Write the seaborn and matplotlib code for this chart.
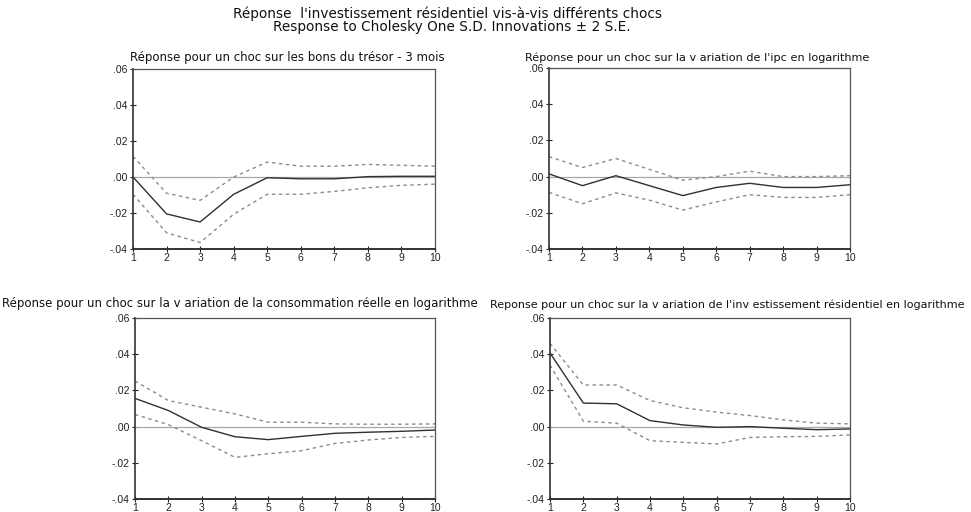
import numpy as np
import pandas as pd
import matplotlib
matplotlib.use("Agg")
import matplotlib.pyplot as plt
import seaborn as sns

periods = list(range(1, 11))

titles = [
    "Réponse pour un choc sur les bons du trésor - 3 mois",
    "Réponse pour un choc sur la v ariation de l'ipc en logarithme",
    "Réponse pour un choc sur la v ariation de la consommation réelle en logarithme",
    "Reponse pour un choc sur la v ariation de l'inv estissement résidentiel en logarithme",
]

resp_tbill = [0.000, -0.0205, -0.025, -0.0096, -0.0004, -0.001, -0.001, 0.0002, 0.0004, 0.0004]
up_tbill = [0.0115, -0.009, -0.013, 0.000, 0.0083, 0.006, 0.006, 0.007, 0.0065, 0.006]
lo_tbill = [-0.0096, -0.031, -0.0364, -0.0207, -0.0096, -0.0096, -0.008, -0.006, -0.0046, -0.004]

resp_ipc = [0.0015, -0.005, 0.0005, -0.005, -0.0105, -0.006, -0.0037, -0.006, -0.006, -0.0045]
up_ipc = [0.011, 0.005, 0.010, 0.004, -0.002, 0.000, 0.003, 0.000, 0.000, 0.0005]
lo_ipc = [-0.0087, -0.015, -0.009, -0.013, -0.0185, -0.014, -0.010, -0.0115, -0.0115, -0.010]

resp_conso = [0.0156, 0.0089, -0.0004, -0.0056, -0.0072, -0.0054, -0.0037, -0.0031, -0.0026, -0.0019]
up_conso = [0.0252, 0.0144, 0.0107, 0.007, 0.0024, 0.0024, 0.0015, 0.0013, 0.0013, 0.0015]
lo_conso = [0.0067, 0.0011, -0.0078, -0.017, -0.015, -0.0133, -0.0093, -0.0074, -0.006, -0.0054]

resp_inv = [0.0407, 0.013, 0.0126, 0.0033, 0.0009, -0.0004, 0.0, -0.0009, -0.0017, -0.0013]
up_inv = [0.046, 0.023, 0.023, 0.0144, 0.0104, 0.008, 0.0061, 0.0037, 0.0019, 0.0015]
lo_inv = [0.034, 0.003, 0.0019, -0.0078, -0.0087, -0.0096, -0.006, -0.0056, -0.0054, -0.0046]

yticks = [-0.04, -0.02, 0.0, 0.02, 0.04, 0.06]
ytick_labels = ["-.04", "-.02", ".00", ".02", ".04", ".06"]

main_line1 = "Réponse  l'investissement résidentiel vis-à-vis différents chocs"
main_line2 = "Response to Cholesky One S.D. Innovations \u00b1 2 S.E."

panels = [
    (resp_tbill, up_tbill, lo_tbill),
    (resp_ipc, up_ipc, lo_ipc),
    (resp_conso, up_conso, lo_conso),
    (resp_inv, up_inv, lo_inv),
]

sns.set_style("white")
plt.rcParams["font.family"] = ["Liberation Sans", "DejaVu Sans"]

fig = plt.figure(figsize=(9.71, 5.12), dpi=100)
W, H = 971, 512
renderer = fig.canvas.get_renderer()


def fitted_text(cx, cy, s, target_w, size, family):
    t = fig.text(cx / W, 1 - cy / H, s, ha="center", va="center",
                 fontsize=size, color="#111111", family=family)
    w = t.get_window_extent(renderer=renderer).width
    t.set_fontsize(size * target_w / w)
    return t


# axes boxes in pixels: left, top, right, bottom
boxes = [(133, 69, 435, 249), (549, 68, 850, 249), (135, 318, 435, 499), (550, 318, 850, 499)]
# title: center x, center y, target width (pixels)
title_pos = [(287, 57, 314), (697, 58, 346), (240, 303, 476), (727, 305, 478)]

for i, ((resp, up, lo), (l, t, r, b)) in enumerate(zip(panels, boxes)):
    ax = fig.add_axes([l / W, 1 - b / H, (r - l) / W, (b - t) / H])
    df = pd.DataFrame({
        "period": periods * 3,
        "value": list(resp) + list(up) + list(lo),
        "series": ["resp"] * 10 + ["up"] * 10 + ["lo"] * 10,
    })
    ax.axhline(0, color="#a8a8a8", lw=0.9, zorder=1)
    sns.lineplot(data=df[df.series == "up"], x="period", y="value", ax=ax,
                 color="#8c8c8c", lw=1.0, linestyle=(0, (2.5, 2.5)), legend=False)
    sns.lineplot(data=df[df.series == "lo"], x="period", y="value", ax=ax,
                 color="#8c8c8c", lw=1.0, linestyle=(0, (2.5, 2.5)), legend=False)
    sns.lineplot(data=df[df.series == "resp"], x="period", y="value", ax=ax,
                 color="#303030", lw=1.0, legend=False)
    ax.set_xlim(1, 10)
    ax.set_ylim(-0.04, 0.06)
    ax.set_xticks(periods)
    ax.set_xticklabels([str(p) for p in periods])
    ax.set_yticks(yticks)
    ax.set_yticklabels(ytick_labels)
    ax.set_xlabel("")
    ax.set_ylabel("")
    ax.tick_params(axis="both", direction="inout", length=4, width=0.8,
                   labelsize=7.5, colors="#222222", pad=2)
    ax.tick_params(axis="x", pad=1)
    ax.tick_params(bottom=True, left=True)
    for s in ax.spines.values():
        s.set_color("#555555")
        s.set_linewidth(0.9)
    ax.spines["bottom"].set_linewidth(1.4)
    ax.spines["bottom"].set_color("#333333")
    ax.spines["left"].set_linewidth(1.2)
    ax.spines["left"].set_color("#333333")
    cx, cy, tw = title_pos[i]
    fitted_text(cx, cy, titles[i], tw, 7.0, ["DejaVu Sans"])

t1 = fitted_text(447, 14, main_line1, 430, 8.0, ["DejaVu Sans"])
fig.text(452 / W, 1 - 27 / H, main_line2, ha="center", va="center",
         fontsize=t1.get_fontsize(), color="#111111", family=["DejaVu Sans"])

fig.savefig("out.png", dpi=100, facecolor="white")
